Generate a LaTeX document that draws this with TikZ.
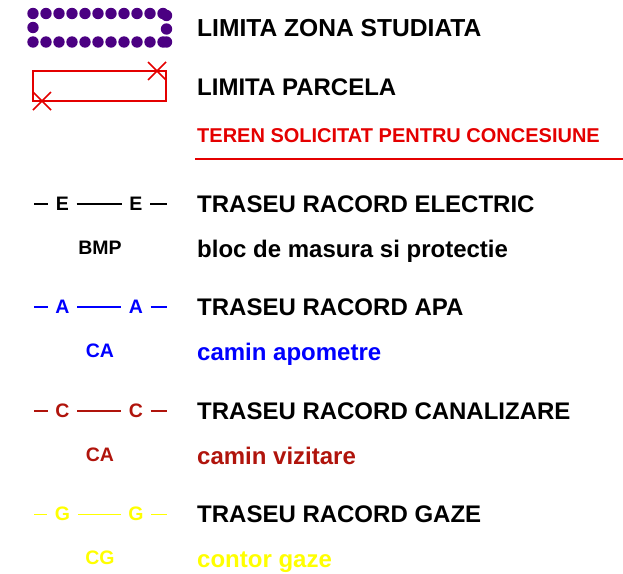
\documentclass[tikz,border=0pt]{standalone}
\usepackage{fontspec}
\setmainfont{Liberation Sans}
\usetikzlibrary{calc}

\definecolor{zonapurple}{RGB}{75,0,130}
\definecolor{parcred}{RGB}{228,0,0}
\definecolor{canalred}{RGB}{176,20,12}
\definecolor{gazyellow}{RGB}{255,255,0}
\definecolor{apablue}{RGB}{0,0,255}

\begin{document}
\begin{tikzpicture} [x=1pt, y=-1pt,
  legtxt/.style={anchor=base west, inner sep=0, font=\fontsize{24}{28}\selectfont\bfseries},
  symtxt/.style={inner sep=7.5, font=\fontsize{19.5}{23}\selectfont\bfseries}]
\useasboundingbox (0,0) rectangle (623,573);

% zona studiata
\foreach \x in {0,...,10}
\fill[zonapurple] (33+13*\x,13.5) circle (5.7) (33+13*\x,42) circle (5.7);
\fill[zonapurple] (33,27.5) circle (5.7) (166.5,15.5) circle (5.7) (166.5,29) circle (5.7) (166.5,42) circle (5.7);
\node[legtxt, font=\fontsize{24.6}{28}\selectfont\bfseries] (zona) at (197,36) {LIMITA ZONA STUDIATA};

% parcela
\draw[parcred, line width=1.5] (33,71) rectangle (166,101);
\draw[parcred, line width=1.5] (148,62) --++(18,18) (148,80) --++(18,-18);
\draw[parcred, line width=1.5] (33,92) --++(18,18) (33,110) --++(18,-18);
\node[legtxt] (parcela) at (197,95) {LIMITA PARCELA};

\node[legtxt, parcred, font=\fontsize{20}{24}\selectfont\bfseries] (teren) at (197,142) {TEREN SOLICITAT PENTRU CONCESIUNE};
\draw[parcred, line width=2] (195,159) -- (623,159);

% trasee racord
\foreach \y/\l/\c/\w/\s/\t/\d in {
  204/E/black/2/BMP/TRASEU RACORD ELECTRIC/bloc de masura si protectie,
  307/A/apablue/2/CA/TRASEU RACORD APA/camin apometre,
  411/C/canalred/2/CA/TRASEU RACORD CANALIZARE/camin vizitare,
  514/G/gazyellow/0.8/CG/TRASEU RACORD GAZE/contor gaze}
{
\coordinate (\l0) at (34,\y);
\coordinate (\l3) at (167,\y);
\node[symtxt, \c] (\l1) at (62.5,\y) {\l};
\node[symtxt, \c] (\l2) at (136,\y) {\l};
\draw[\c, line width=\w] (\l0) -- (\l1) (\l1) -- (\l2) (\l2) -- (\l3);
\node[symtxt, \c] (\s\l) at (100,\y+44) {\s};
\node[legtxt] (traseu\l) at (197,\y+8) {\t};
\node[legtxt, \c] (desc\l) at (197,\y+53) {\d};
}

\end{tikzpicture}
\end{document}
